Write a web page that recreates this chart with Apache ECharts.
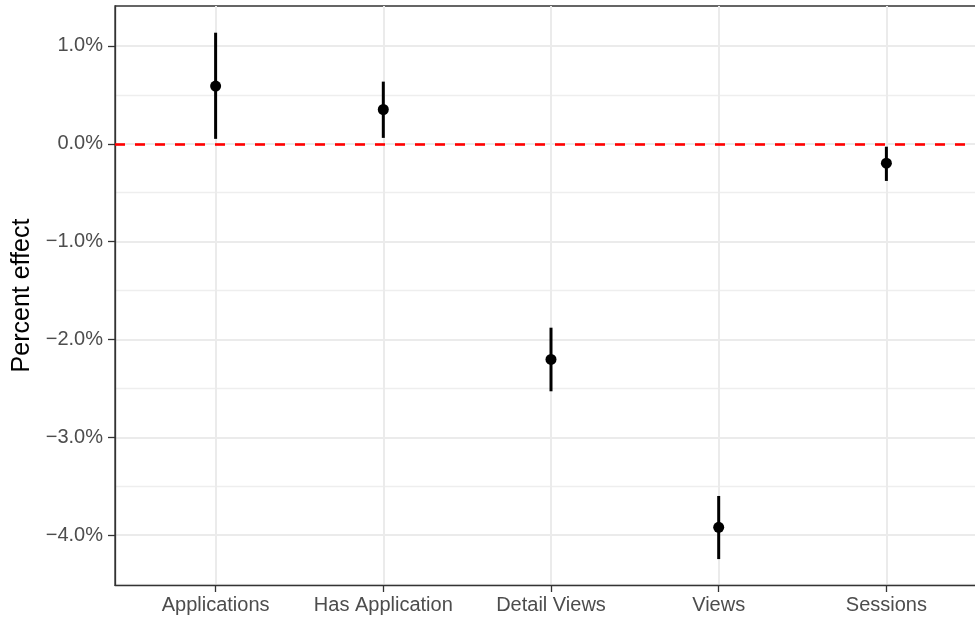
<!DOCTYPE html>
<html>
<head>
<meta charset="utf-8">
<style>
  html, body { margin: 0; padding: 0; background: #ffffff; }
  #chart { width: 975px; height: 618px; }
</style>
<script src="https://cdn.jsdelivr.net/npm/echarts@6/dist/echarts.min.js"></script>
</head>
<body>
<div id="chart"></div>
<script>
// Outcome names shown along the x axis
var categories = ['Applications', 'Has Application', 'Detail Views', 'Views', 'Sessions'];
// Point estimates of the percent effect (in %)
var estimate = [0.59, 0.35, -2.204, -3.92, -0.198];
// Confidence interval bounds (in %)
var lower = [0.05, 0.06, -2.53, -4.245, -0.38];
var upper = [1.135, 0.635, -1.88, -3.6, -0.03];
// Labelled y ticks and the lighter in-between gridlines
var yTicks = [-4, -3, -2, -1, 0, 1];
var yMinorTicks = [-4.5, -3.5, -2.5, -1.5, -0.5, 0.5];
// Reference value drawn as a dashed line
var referenceValue = 0;

var positions = categories.map(function (_, i) { return i + 1; });
var pointData = positions.map(function (x, i) { return [x, estimate[i]]; });
var barData = positions.map(function (x, i) { return [x, lower[i], upper[i]]; });

function fmtPct(v) {
  var s = Math.abs(v).toFixed(1) + '%';
  return v < 0 ? '\u2212' + s : s;
}

var FONT = '"Liberation Sans", Arial, Helvetica, sans-serif';
var chart = echarts.init(document.getElementById('chart'), null, { renderer: 'canvas' });

chart.setOption({
  animation: false,
  backgroundColor: '#ffffff',
  grid: {
    left: 115, top: 6, width: 872, height: 579,
    outerBoundsMode: 'none',
    containLabel: false,
    show: true, borderColor: '#333333', borderWidth: 1.3,
    backgroundColor: 'transparent'
  },
  xAxis: {
    type: 'value', min: 0.4, max: 5.6,
    position: 'bottom',
    axisLine: { show: true, onZero: false, lineStyle: { color: '#333333', width: 1.3 } },
    axisTick: { show: true, length: 7, customValues: positions,
      lineStyle: { color: '#333333', width: 1.3 } },
    axisLabel: { show: true, customValues: positions, margin: 10,
      color: '#4D4D4D', fontSize: 20, fontFamily: FONT,
      formatter: function (v) { return categories[Math.round(v) - 1] || ''; } },
    splitLine: { show: true, lineStyle: { color: '#EBEBEB', width: 2 } }
  },
  yAxis: [{
    type: 'value', min: -4.51, max: 1.408,
    axisLine: { show: true, onZero: false, lineStyle: { color: '#333333', width: 1.3 } },
    axisTick: { show: true, length: 7, customValues: yTicks,
      lineStyle: { color: '#333333', width: 1.3 } },
    axisLabel: { show: true, customValues: yTicks, margin: 12,
      color: '#4D4D4D', fontSize: 20, fontFamily: FONT, formatter: fmtPct },
    splitLine: { show: true, lineStyle: { color: '#EBEBEB', width: 2 } },
    name: 'Percent effect', nameLocation: 'middle', nameGap: 78,
    nameTextStyle: { color: '#000000', fontSize: 25, fontFamily: FONT }
  }, {
    type: 'value', min: -4.51, max: 1.408, position: 'left',
    axisLine: { show: false, onZero: false },
    axisTick: { show: false, customValues: yMinorTicks },
    axisLabel: { show: false },
    splitLine: { show: true, lineStyle: { color: '#EEEEEE', width: 1.3 } }
  }],
  series: [{
    type: 'custom',
    z: 3,
    data: barData,
    encode: { x: 0, y: [1, 2] },
    renderItem: function (params, api) {
      var lo = api.coord([api.value(0), api.value(1)]);
      var hi = api.coord([api.value(0), api.value(2)]);
      return {
        type: 'line',
        shape: { x1: lo[0], y1: lo[1], x2: hi[0], y2: hi[1] },
        style: { stroke: '#000000', lineWidth: 3 }
      };
    }
  }, {
    type: 'scatter',
    z: 4,
    data: pointData,
    symbol: 'circle',
    symbolSize: 11,
    itemStyle: { color: '#000000', opacity: 1 },
    markLine: {
      silent: true,
      symbol: ['none', 'none'],
      label: { show: false },
      z: 2,
      lineStyle: { color: '#FF0000', type: [10, 10], width: 2.6, opacity: 1 },
      data: [{ yAxis: referenceValue }]
    }
  }]
});
</script>
</body>
</html>
